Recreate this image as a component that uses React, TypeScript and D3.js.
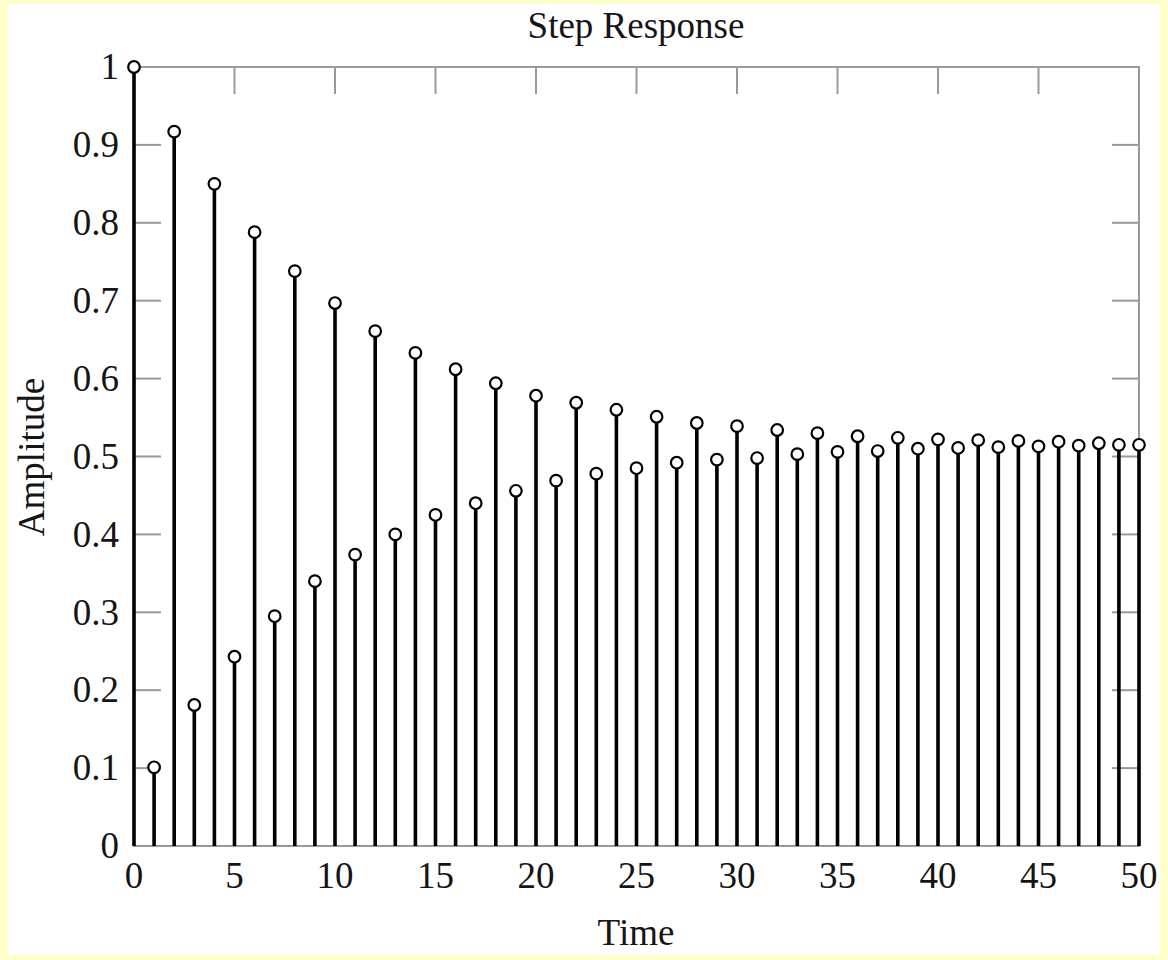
import React from 'react';
import * as d3 from 'd3';

// step response samples
const times = d3.range(0, 51);
const amplitude = [
  1.0, 0.101, 0.917, 0.181, 0.85, 0.243, 0.788, 0.295, 0.738, 0.34,
  0.697, 0.374, 0.661, 0.4, 0.633, 0.425, 0.612, 0.44, 0.594, 0.456,
  0.578, 0.469, 0.569, 0.478, 0.56, 0.485, 0.551, 0.492, 0.543, 0.496,
  0.539, 0.498, 0.534, 0.503, 0.53, 0.506, 0.526, 0.507, 0.524, 0.51,
  0.522, 0.511, 0.521, 0.512, 0.52, 0.513, 0.519, 0.514, 0.517, 0.515,
  0.515,
];
const xTicks = [0, 5, 10, 15, 20, 25, 30, 35, 40, 45, 50];
const yTicks = [0, 0.1, 0.2, 0.3, 0.4, 0.5, 0.6, 0.7, 0.8, 0.9, 1];

const W = 1168;
const H = 960;
const FONT = '"Liberation Serif", "DejaVu Serif", serif';
const FS = 37;

const App = () => {
  const margin = { left: 134, right: 1139, top: 67, bottom: 846 };
  const x = d3.scaleLinear().domain([0, 50]).range([margin.left, margin.right]);
  const y = d3.scaleLinear().domain([0, 1]).range([margin.bottom, margin.top]);
  const axisColor = '#9a9a9a';
  const tickLen = 27;
  const textColor = '#151515';

  return (
    <svg
      width={W}
      height={H}
      style={{ position: 'absolute', left: 0, top: 0, display: 'block' }}
      fontFamily={FONT}
    >
      <rect x={0} y={0} width={W} height={H} fill="#ffffcc" />
      <rect x={8} y={4} width={1152} height={951} fill="#ffffff" />

      {/* frame */}
      <rect
        x={x(0)}
        y={y(1)}
        width={x(50) - x(0)}
        height={y(0) - y(1)}
        fill="none"
        stroke={axisColor}
        strokeWidth={2}
      />

      {/* ticks, pointing inwards */}
      {xTicks.slice(1, -1).map((t) => (
        <g key={'xt' + t}>
          <line x1={x(t)} x2={x(t)} y1={y(1)} y2={y(1) + tickLen} stroke={axisColor} strokeWidth={2} />
          <line x1={x(t)} x2={x(t)} y1={y(0)} y2={y(0) - tickLen} stroke={axisColor} strokeWidth={2} />
        </g>
      ))}
      {yTicks.slice(1, -1).map((t) => (
        <g key={'yt' + t}>
          <line x1={x(0)} x2={x(0) + tickLen} y1={y(t)} y2={y(t)} stroke={axisColor} strokeWidth={2} />
          <line x1={x(50)} x2={x(50) - tickLen} y1={y(t)} y2={y(t)} stroke={axisColor} strokeWidth={2} />
        </g>
      ))}

      {/* stems */}
      {times.map((t, i) => (
        <line
          key={'s' + t}
          x1={x(t)}
          x2={x(t)}
          y1={y(0)}
          y2={y(amplitude[i])}
          stroke="#000"
          strokeWidth={3.6}
        />
      ))}
      {times.map((t, i) => (
        <circle
          key={'c' + t}
          cx={x(t)}
          cy={y(amplitude[i])}
          r={5.8}
          fill="#fff"
          stroke="#000"
          strokeWidth={2.2}
        />
      ))}

      {/* tick labels */}
      {xTicks.map((t) => (
        <text key={'xl' + t} x={x(t)} y={888} textAnchor="middle" fontSize={FS} fill={textColor}>
          {t}
        </text>
      ))}
      {yTicks.map((t) => (
        <text
          key={'yl' + t}
          x={x(0) - 15}
          y={y(t)}
          dy="0.33em"
          textAnchor="end"
          fontSize={FS}
          fill={textColor}
        >
          {d3.format('~g')(t)}
        </text>
      ))}

      <text x={636} y={38} textAnchor="middle" fontSize={FS} fill={textColor}>
        Step Response
      </text>
      <text x={636} y={945} textAnchor="middle" fontSize={FS} fill={textColor}>
        Time
      </text>
      <text
        transform={`translate(44, 457) rotate(-90)`}
        textAnchor="middle"
        fontSize={FS}
        fill={textColor}
      >
        Amplitude
      </text>
    </svg>
  );
};

export default App;
